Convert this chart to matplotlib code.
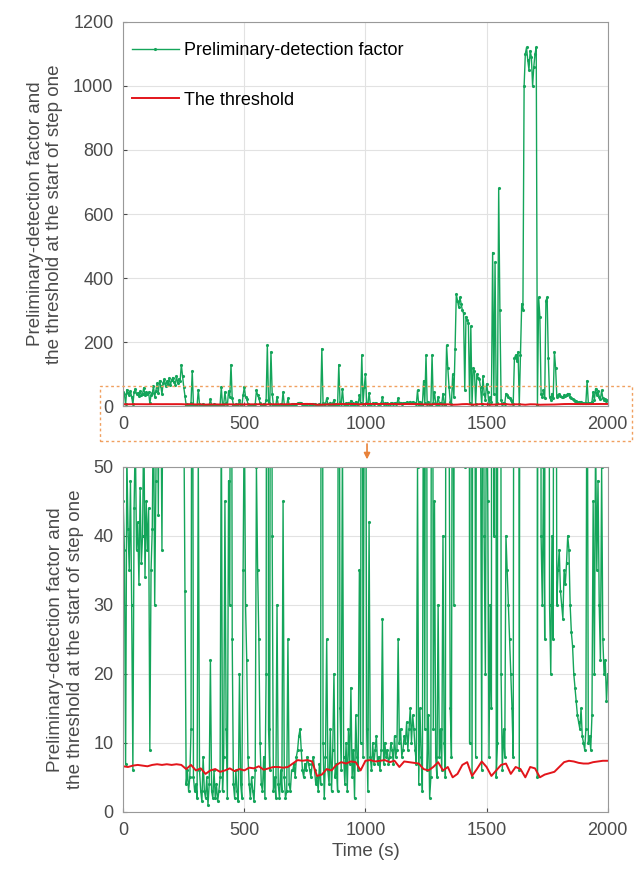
import numpy as np
import matplotlib.pyplot as plt
from matplotlib.patches import Rectangle, FancyArrowPatch

plt.rcParams['font.family'] = ['Liberation Sans', 'DejaVu Sans']

# preliminary-detection factor, one value every 5 s (rows of 100 s)
factor = [
    45, 38, 7, 52, 41, 35, 48, 30, 6, 44, 55, 38, 42, 33, 47, 36, 40, 58, 34, 45,
    38, 44, 9, 35, 41, 62, 30, 48, 72, 43, 80, 65, 38, 74, 85, 62, 78, 70, 88, 66,
    82, 90, 75, 68, 95, 72, 86, 80, 130, 95, 60, 32, 4, 6, 3, 5, 12, 110, 5, 3,
    4, 2, 52, 6, 3, 1.5, 8, 3, 2, 5, 1, 4, 22, 3, 2, 6, 2, 4, 1.5, 3,
    5, 60, 3, 8, 45, 12, 2, 48, 30, 130, 25, 4, 2, 6, 3, 1.5, 20, 4, 2, 35,
    60, 30, 22, 8, 4, 2, 5, 3, 1.5, 6, 50, 35, 25, 10, 4, 3, 8, 2, 20, 190,
    12, 6, 170, 40, 3, 5, 2, 30, 4, 2, 6, 3, 45, 5, 2, 3, 25, 4, 3, 6,
    6, 7, 5, 8, 9, 11, 12, 9, 6, 5, 7, 6, 8, 7, 6, 5, 7, 8, 6, 4,
    5, 3, 7, 4, 180, 10, 2, 8, 25, 6, 4, 12, 3, 9, 20, 5, 7, 3, 130, 15,
    6, 55, 8, 4, 10, 3, 12, 7, 18, 5, 9, 2, 14, 8, 6, 35, 10, 160, 8, 60,
    100, 12, 3, 42, 8, 6, 10, 7, 9, 11, 7, 8, 6, 9, 28, 7, 10, 8, 9, 7,
    8, 10, 9, 7, 11, 8, 9, 25, 10, 12, 8, 9, 11, 10, 13, 9, 12, 15, 10, 14,
    12, 9, 7, 50, 4, 15, 8, 3, 80, 12, 160, 6, 14, 2, 5, 160, 12, 45, 8, 5,
    30, 8, 12, 6, 40, 10, 5, 190, 120, 60, 15, 8, 100, 30, 180, 350, 330, 310, 340, 320,
    300, 290, 50, 280, 270, 260, 10, 250, 5, 120, 110, 8, 100, 90, 85, 60, 6, 95, 40, 20,
    70, 45, 8, 30, 15, 480, 40, 450, 5, 10, 680, 300, 20, 6, 12, 8, 40, 35, 30, 25,
    20, 15, 8, 150, 160, 140, 170, 6, 160, 320, 300, 1000, 1100, 1120, 1080, 1050, 1110, 1090, 1000, 1060,
    1100, 1120, 5, 340, 280, 40, 30, 50, 25, 330, 340, 150, 30, 20, 40, 25, 170, 120, 30, 35,
    38, 32, 30, 28, 35, 33, 36, 40, 38, 30, 26, 24, 20, 18, 16, 14, 13, 12, 15, 11,
    10, 9, 12, 80, 10, 11, 9, 14, 45, 20, 55, 35, 48, 30, 22, 50, 25, 20, 22, 16,
    20,
]

# threshold at the start of step one, one value every 20 s
threshold = [
    6.6, 6.5, 6.7, 6.8, 6.7, 6.6, 6.8, 6.9, 6.8, 6.9, 6.8, 6.9, 6.8,
    6.2, 6.8, 6.0, 6.3, 5.5, 6.0, 6.2, 5.8,
    6.0, 6.3, 5.9, 6.2, 6.0, 6.4, 6.3, 6.6, 6.1, 6.3, 6.5, 6.5, 6.4, 6.5, 7.0,
    7.5, 7.4, 7.5, 7.3,
    5.2, 5.4, 6.2, 6.0, 6.8, 7.2, 7.0, 7.3, 7.2, 6.0, 7.4, 7.5, 7.3, 7.4, 7.5,
    7.2, 7.4, 6.5, 7.3, 7.2, 7.1, 7.0, 6.2, 6.0, 6.5, 7.2, 6.0, 6.5, 5.0, 5.5,
    6.8, 7.2, 5.2, 6.2, 7.3, 6.5, 5.2, 6.0, 6.8, 7.0, 5.5, 6.5, 6.2, 5.0, 6.5,
    6.3, 5.0, 5.4, 5.6, 5.8, 6.5, 7.2, 7.4, 7.3, 7.1, 7.0, 7.0, 7.2, 7.3, 7.4, 7.4,
]

t_f = np.linspace(0, 2000, len(factor))
t_th = np.linspace(0, 2000, len(threshold))

green = '#14a55a'
red = '#e3151b'
orange = '#f0a060'
txt = '#4a4a4a'

fig = plt.figure(figsize=(6.35, 8.72), dpi=100)
ax1 = fig.add_axes([0.194, 0.534, 0.763, 0.441])
ax2 = fig.add_axes([0.194, 0.069, 0.763, 0.3956])

ylab = 'Preliminary-detection factor and\nthe threshold at the start of step one'
for ax, ymax, yt in [(ax1, 1200, np.arange(0, 1201, 200)), (ax2, 50, np.arange(0, 51, 10))]:
    ax.plot(t_f, factor, color=green, lw=1.0, marker='.', ms=2.5,
            label='Preliminary-detection factor')
    ax.plot(t_th, threshold, color=red, lw=1.4, label='The threshold')
    ax.set_xlim(0, 2000)
    ax.set_ylim(0, ymax)
    ax.set_xticks(np.arange(0, 2001, 500))
    ax.set_yticks(yt)
    ax.grid(True, color='#e2e2e2', lw=0.8)
    ax.tick_params(direction='in', labelsize=13, colors=txt, length=3, pad=7)
    ax.set_ylabel(ylab, fontsize=13.5, color=txt, labelpad=7)
    for s in ax.spines.values():
        s.set_color('#999999')
        s.set_linewidth(0.8)

ax1.legend(loc='upper left', bbox_to_anchor=(-0.005, 0.975), frameon=False, fontsize=13,
           handlelength=2.6, handletextpad=0.3, borderaxespad=0.2, labelspacing=1.8)
ax2.set_xlabel('Time (s)', fontsize=13.5, color=txt, labelpad=3)

# dashed box around the zoomed band and the arrow to the lower panel
fig.patches.append(Rectangle((0.157, 0.494), 0.838, 0.063, transform=fig.transFigure,
                             fill=False, ec=orange, lw=1.0, ls=(0, (2, 2))))
fig.patches.append(FancyArrowPatch((0.578, 0.494), (0.578, 0.470), transform=fig.transFigure,
                                   arrowstyle='-|>', mutation_scale=9, color='#e8823a', lw=1.2))

plt.savefig('out.png', dpi=100)
